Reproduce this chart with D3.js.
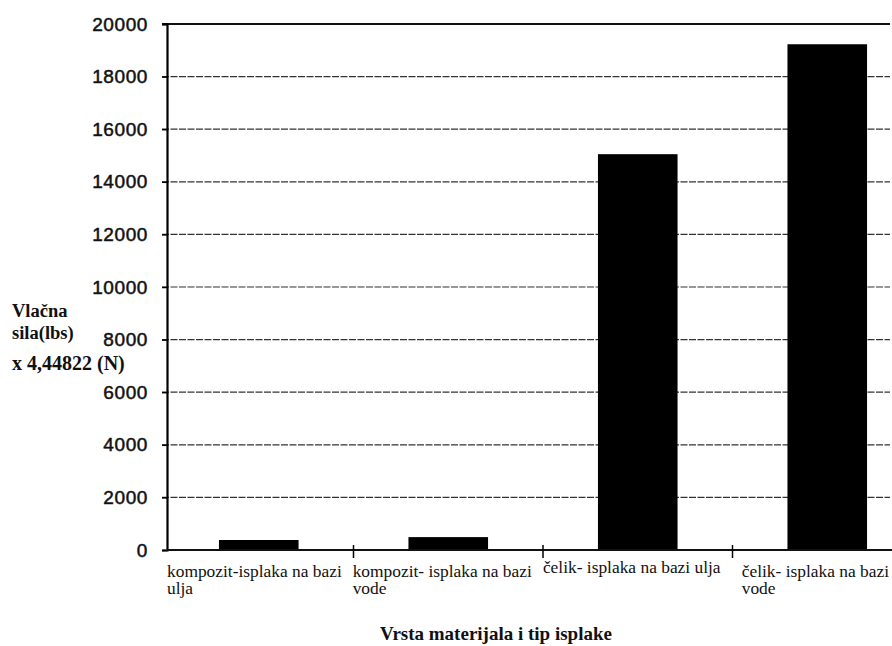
<!DOCTYPE html>
<html>
<head>
	<meta charset="utf-8">
	<title>Vlačna sila</title>
	<script type="text/javascript" src="https://cdn.jsdelivr.net/npm/d3@7"></script>
	<style>
		body { margin: 0; background: #fff; }
	</style>
</head>
<body>
	<script type="text/javascript">
		// podaci
		var categories = [
			["kompozit-isplaka na bazi", "ulja"],
			["kompozit- isplaka na bazi", "vode"],
			["čelik- isplaka na bazi ulja"],
			["čelik- isplaka na bazi", "vode"]
		];
		var values = [380, 490, 15050, 19230];
		var yTicks = [0, 2000, 4000, 6000, 8000, 10000, 12000, 14000, 16000, 18000, 20000];
		var yTitle = ["Vlačna", "sila(lbs)", "x 4,44822 (N)"];
		var xTitle = "Vrsta materijala i tip isplake";

		var W = 892, H = 646;
		var mLeft = 167, mRight = 922, mTop = 24, mBottom = 550;

		var svg = d3.select("body").append("svg")
			.attr("width", W).attr("height", H);

		var x = d3.scaleBand()
			.domain(d3.range(categories.length))
			.range([mLeft - 3, mRight])
			.paddingInner(0.58)
			.paddingOuter(0.29);
		var y = d3.scaleLinear().domain([0, 20000]).range([mBottom, mTop]);

		// mreža
		svg.append("g").selectAll("line")
			.data(yTicks.filter(function(d){ return d > 0 && d < 20000; }))
			.enter().append("line")
			.attr("x1", mLeft - 5).attr("x2", 890)
			.attr("y1", function(d){ return y(d); })
			.attr("y2", function(d){ return y(d); })
			.attr("stroke", "#333")
			.attr("stroke-width", 1.2)
			.attr("stroke-dasharray", "7,1.5");
		// gornja linija
		svg.append("line")
			.attr("x1", mLeft - 5).attr("x2", 890)
			.attr("y1", y(20000)).attr("y2", y(20000))
			.attr("stroke", "#111").attr("stroke-width", 2);

		// stupci
		svg.append("g").selectAll("rect")
			.data(values)
			.enter().append("rect")
			.attr("x", function(d, i){ return x(i); })
			.attr("width", x.bandwidth())
			.attr("y", function(d){ return y(d); })
			.attr("height", function(d){ return mBottom - y(d); })
			.attr("fill", "#000");

		// y os
		var yAxis = svg.append("g")
			.attr("transform", "translate(" + mLeft + ",0)")
			.call(d3.axisLeft(y).tickValues(yTicks).tickSize(5).tickPadding(14).tickFormat(d3.format("d")));
		yAxis.select(".domain").attr("stroke", "#000").attr("stroke-width", 2.2);
		yAxis.selectAll(".tick line").attr("stroke", "#000").attr("stroke-width", 1.5);
		yAxis.selectAll("text")
			.attr("font-family", "'Liberation Sans', Arial, sans-serif")
			.attr("font-size", "19px")
			.attr("letter-spacing", "0.6px")
			.attr("fill", "#111")
			.attr("stroke", "#111")
			.attr("stroke-width", 0.5);

		// x os
		svg.append("line")
			.attr("x1", mLeft).attr("x2", 892)
			.attr("y1", mBottom).attr("y2", mBottom)
			.attr("stroke", "#111").attr("stroke-width", 1.8);
		var gap = (x.step() - x.bandwidth()) / 2;
		svg.append("g").selectAll("line")
			.data(d3.range(1, categories.length))
			.enter().append("line")
			.attr("x1", function(i){ return x(i) - gap; })
			.attr("x2", function(i){ return x(i) - gap; })
			.attr("y1", mBottom - 5).attr("y2", mBottom + 8)
			.attr("stroke", "#000").attr("stroke-width", 1.5);

		// nazivi kategorija
		var labels = svg.append("g").selectAll("text")
			.data(categories)
			.enter().append("text")
			.attr("font-family", "'Liberation Serif', 'Times New Roman', serif")
			.attr("font-size", "17.4px")
			.attr("fill", "#111");
		labels.each(function(lines, i) {
			var t = d3.select(this);
			var baseY = lines.length > 1 ? 577 : 573;
			lines.forEach(function(s, k) {
				t.append("tspan").text(s).attr("y", baseY + k * 17);
			});
			var w = t.select("tspan").node().getComputedTextLength();
			var cx = x(i) + x.bandwidth() / 2;
			var x0 = Math.min(cx - w / 2 - 6, W - 3 - w);
			t.selectAll("tspan").attr("x", Math.max(mLeft, x0));
		});

		// naslov y
		svg.append("text")
			.attr("font-family", "'Liberation Serif', 'Times New Roman', serif")
			.attr("font-weight", "bold")
			.attr("fill", "#111")
			.selectAll("tspan")
			.data(yTitle)
			.enter().append("tspan")
			.attr("x", 12)
			.attr("y", function(d, i){ return [317, 339, 370][i]; })
			.attr("font-size", function(d, i){ return i < 2 ? "18.5px" : "20px"; })
			.text(function(d){ return d; });

		// naslov x
		svg.append("text")
			.attr("x", 496).attr("y", 640)
			.attr("text-anchor", "middle")
			.attr("font-family", "'Liberation Serif', 'Times New Roman', serif")
			.attr("font-size", "19px")
			.attr("font-weight", "bold")
			.attr("fill", "#111")
			.text(xTitle);
	</script>
</body>
</html>
